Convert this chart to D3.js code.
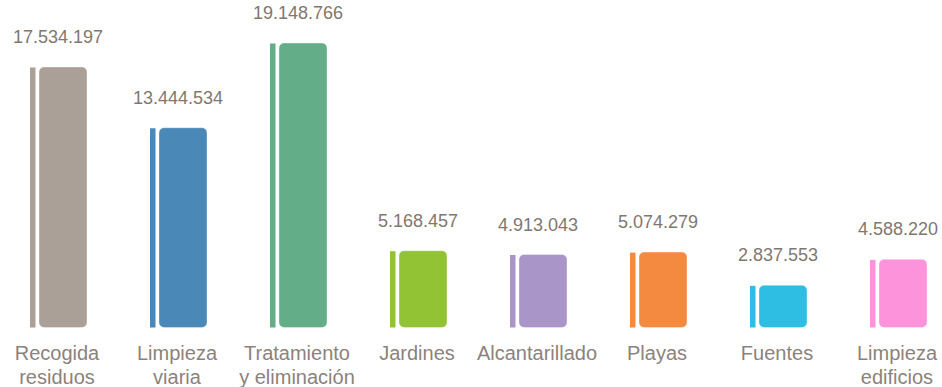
<!DOCTYPE html>
<html><head><meta charset="utf-8">
<script src="https://cdn.jsdelivr.net/npm/d3@7"></script>
<style>body{margin:0;background:#fff}svg{display:block}</style>
</head><body>
<script>
const categories = [["Recogida","residuos"],["Limpieza","viaria"],["Tratamiento","y eliminación"],["Jardines"],["Alcantarillado"],["Playas"],["Fuentes"],["Limpieza","edificios"]];
const values = [17534197,13444534,19148766,5168457,4913043,5074279,2837553,4588220];
const valueLabels = ["17.534.197","13.444.534","19.148.766","5.168.457","4.913.043","5.074.279","2.837.553","4.588.220"];
const colors = ["#aaa097","#4a88b8","#63ae89","#92c334","#a995c7","#f38a40","#2ebee4","#fd93da"];

const W=942,H=387;
const svg=d3.select("body").append("svg").attr("width",W).attr("height",H);
const x=d3.scaleBand().domain(d3.range(values.length)).range([-1,959]).paddingInner(0).paddingOuter(0);
const y=d3.scaleLinear().domain([0,19148766]).range([327.5,43]);
const font="'Liberation Sans', Helvetica, Arial, sans-serif";

const g=svg.selectAll("g.cat").data(values).enter().append("g");
g.append("rect")
  .attr("x",(d,i)=>x(i)+31).attr("width",5.5)
  .attr("y",d=>y(d)+0.5).attr("height",d=>y(0)-y(d)-0.5)
  .attr("fill",(d,i)=>colors[i]);
g.append("rect")
  .attr("x",(d,i)=>x(i)+40).attr("width",48)
  .attr("y",d=>y(d)).attr("height",d=>y(0)-y(d))
  .attr("rx",5).attr("ry",5)
  .attr("fill",(d,i)=>colors[i])
  .attr("stroke","rgba(255,255,255,0.35)").attr("stroke-width",1);
g.append("text")
  .attr("x",(d,i)=>x(i)+59).attr("y",d=>y(d)-24)
  .attr("text-anchor","middle").attr("font-family",font).attr("font-size",18)
  .attr("fill","#81776f").text((d,i)=>valueLabels[i]);
const lab=g.append("text")
  .attr("text-anchor","middle").attr("font-family",font).attr("font-size",20)
  .attr("fill","#8c827c");
lab.selectAll("tspan").data((d,i)=>categories[i].map(t=>({t,i}))).enter().append("tspan")
  .attr("x",d=>x(d.i)+58).attr("y",(d,j)=>360+j*24).text(d=>d.t);
</script>
</body></html>
